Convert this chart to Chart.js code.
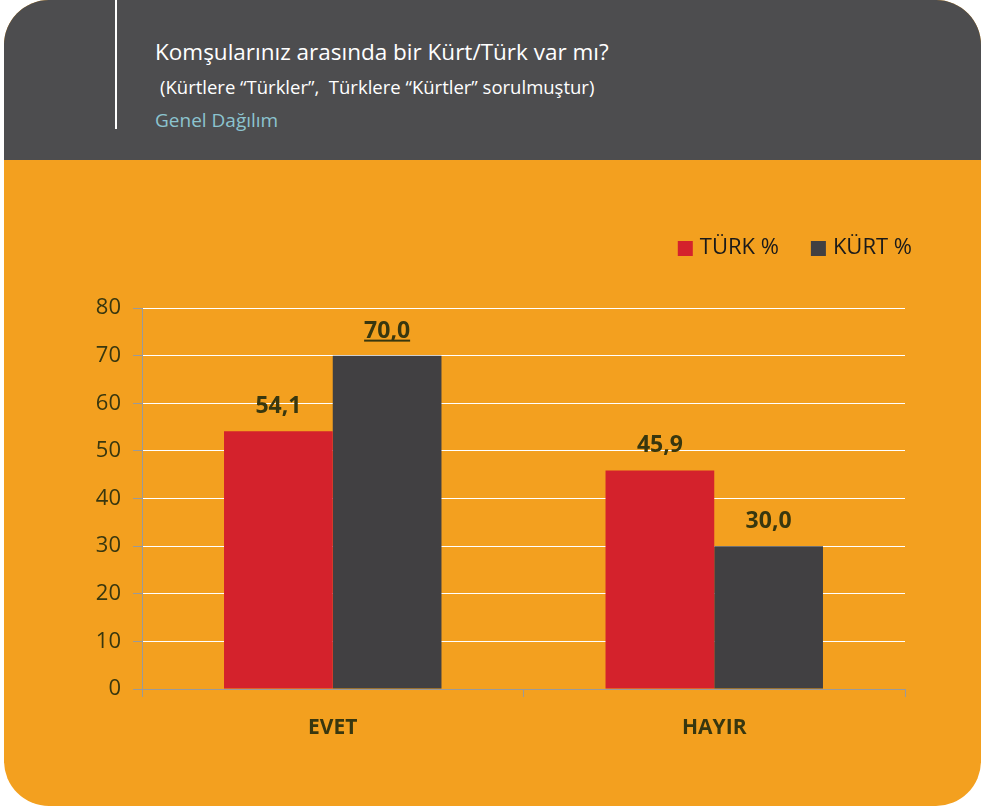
<!DOCTYPE html>
<html>
<head>
<meta charset="utf-8">
<script src="https://cdn.jsdelivr.net/npm/chart.js@4.4.0/dist/chart.umd.min.js"></script>
<style>
    body { margin: 0; background: #ffffff; font-family: "Open Sans", sans-serif; }
    #card { position: absolute; left: 4px; top: 0; width: 977px; height: 806px; border-radius: 45px; overflow: hidden; background: #f3a01f; }
    #head { position: absolute; left: 0; top: 0; width: 100%; height: 160px; background: #4d4d4f; }
    #bar { position: absolute; left: 111px; top: 0; width: 2px; height: 129px; background: #ffffff; }
    .t { position: absolute; line-height: 1; white-space: pre; }
    #title { left: 151px; top: 41px; font-size: 22.5px; color: #ffffff; }
    #sub { left: 156px; top: 78px; font-size: 18.5px; color: #ffffff; }
    #genel { left: 151px; top: 111px; font-size: 19px; color: #8cc4cf; }
    #salesChart { position: absolute; left: 0; top: 160px; }
</style>
</head>
<body>
<div id="card">
    <div id="head">
        <div id="bar"></div>
        <div class="t" id="title">Komşularınız arasında bir Kürt/Türk var mı?</div>
        <div class="t" id="sub">(Kürtlere “Türkler”,  Türklere “Kürtler” sorulmuştur)</div>
        <div class="t" id="genel">Genel Dağılım</div>
    </div>
</div>
<canvas id="salesChart" width="981" height="645"></canvas>
<script>
// données
const categories = ['EVET', 'HAYIR'];
const turkValues = [54.1, 45.9];
const kurtValues = [70.0, 30.0];
const seriesNames = ['TÜRK %', 'KÜRT %'];
const yTicks = [0, 10, 20, 30, 40, 50, 60, 70, 80];
// le "70,0" est souligné dans l'original
const underlined = [[false, false], [true, false]];

const textDark = '#38370f';
const axisGray = '#9a9a9a';

// étiquettes de valeur au-dessus des barres
const valueLabels = {
    id: 'valueLabels',
    afterDatasetsDraw(chart) {
        const c = chart.ctx;
        c.save();
        c.font = 'bold 23px "Open Sans"';
        c.fillStyle = textDark;
        c.textAlign = 'center';
        c.textBaseline = 'alphabetic';
        chart.data.datasets.forEach((ds, i) => {
            chart.getDatasetMeta(i).data.forEach((bar, j) => {
                const txt = ds.data[j].toFixed(1).replace('.', ',');
                const y = bar.y - 18;
                c.fillText(txt, bar.x, y);
                if (underlined[i][j]) {
                    const w = c.measureText(txt).width;
                    c.fillRect(bar.x - w / 2, y + 2, w, 2);
                }
            });
        });
        c.restore();
    }
};

// légende dessinée à droite, au-dessus de la zone du graphique
const topLegend = {
    id: 'topLegend',
    afterDraw(chart) {
        const c = chart.ctx;
        const area = chart.chartArea;
        c.save();
        c.font = '22px "Open Sans"';
        c.textBaseline = 'middle';
        c.textAlign = 'left';
        const yMid = area.top - 60;
        let x = area.right + 7;
        const items = chart.data.datasets.slice().reverse();
        items.forEach(ds => {
            const w = c.measureText(ds.label).width;
            x -= w;
            c.fillStyle = '#1a1a1a';
            c.fillText(ds.label, x, yMid);
            x -= 7 + 15;
            c.fillStyle = ds.backgroundColor;
            c.fillRect(x, yMid - 7, 15, 15);
            x -= 32;
        });
        c.restore();
    }
};

const ctx = document.getElementById('salesChart').getContext('2d');
const salesChart = new Chart(ctx, {
    type: 'bar',
    data: {
        labels: categories,
        datasets: [
            { label: seriesNames[0], data: turkValues, backgroundColor: '#d4222c' },
            { label: seriesNames[1], data: kurtValues, backgroundColor: '#414042' }
        ]
    },
    options: {
        responsive: false,
        animation: false,
        devicePixelRatio: 1,
        categoryPercentage: 0.57,
        barPercentage: 1,
        layout: { padding: { left: 0, right: 76, top: 148, bottom: 56 } },
        plugins: {
            legend: { display: false },
            tooltip: { enabled: false }
        },
        scales: {
            x: {
                afterFit: s => { s.height = 60; },
                grid: { drawOnChartArea: false, color: axisGray, tickLength: 8 },
                border: { color: axisGray },
                ticks: { color: textDark, padding: 18, font: { family: 'Open Sans', size: 21, weight: 'bold' } }
            },
            y: {
                min: 0,
                max: 80,
                afterFit: s => { s.width = 142; },
                afterBuildTicks: s => { s.ticks = yTicks.map(v => ({ value: v })); },
                grid: { color: '#ffffff', tickColor: axisGray, tickLength: 9 },
                border: { color: axisGray },
                ticks: { color: textDark, padding: 12, font: { family: 'Open Sans', size: 22 } }
            }
        }
    },
    plugins: [valueLabels, topLegend]
});
</script>
</body>
</html>
